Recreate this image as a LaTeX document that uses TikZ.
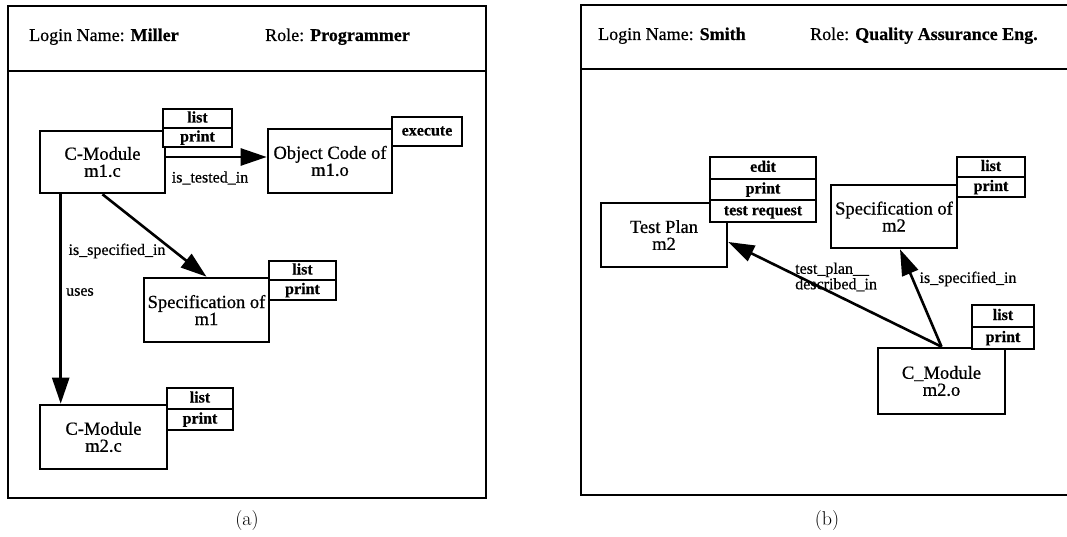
\documentclass[tikz,border=0pt]{standalone}
\usepackage{fontspec}
\newfontfamily\tms[FakeBold=0.6]{Liberation Serif}
\usetikzlibrary{arrows.meta,calc}
\begin{document}
\begin{tikzpicture}[x=1pt,y=-1pt,
  frame/.style={line width=2.6pt},
  obj/.style={draw,line width=2.6pt,inner sep=0pt,align=center,font=\tms\fontsize{18.5}{17}\selectfont},
  opbox/.style={draw,fill=white,line width=2.2pt,inner sep=0pt,outer sep=0pt,text height=11pt,text depth=3pt,font=\tms\bfseries\fontsize{16}{16}\selectfont},
  rel/.style={line width=2.6pt,-{Triangle[length=26pt,width=17pt]}},
  lbl/.style={inner sep=0pt,font=\tms\fontsize{16}{14}\selectfont,align=left},
  hdr/.style={inner sep=0pt,anchor=base west,font=\tms\fontsize{18}{20}\selectfont},
  captxt/.style={inner sep=0pt,font=\fontsize{20}{24}\selectfont}]
\useasboundingbox (0,0) rectangle (1067,537);

% ---------- panel (a) ----------
\draw[frame] (8,6) rectangle (486,498);
\draw[frame] (8,71) -- (486,71);
\node[hdr] (ha1) at (29,41) {Login Name: \textbf{Miller}};
\node[hdr] (ha2) at (265,41) {Role: \textbf{Programmer}};

\node[obj,minimum width=125pt,minimum height=62pt] (m1c) at (102.5,162) {C-Module\\m1.c};
\node[obj,minimum width=124pt,minimum height=64pt] (obj) at (330,161) {Object Code of\\m1.o};
\node[obj,minimum width=125pt,minimum height=64pt] (spec1) at (206.5,310) {Specification of\\m1};
\node[obj,minimum width=127pt,minimum height=64pt] (m2c) at (103.5,437) {C-Module\\m2.c};

\node[opbox,minimum width=69pt,minimum height=19pt] (m1cl) at (197.5,118.5) {list};
\node[opbox,minimum width=69pt,minimum height=19pt,anchor=north] (m1cp) at (m1cl.south) {print};
\node[opbox,minimum width=70pt,minimum height=29pt] (objx) at (427,131.5) {execute};
\node[opbox,minimum width=67pt,minimum height=19.5pt] (s1l) at (302.5,270.5) {list};
\node[opbox,minimum width=67pt,minimum height=19.5pt,anchor=north] (s1p) at (s1l.south) {print};
\node[opbox,minimum width=66pt,minimum height=21pt] (m2cl) at (200,398.5) {list};
\node[opbox,minimum width=66pt,minimum height=21pt,anchor=north] (m2cp) at (m2cl.south) {print};

\draw[rel] ([yshift=5pt]m1c.east) -- ([yshift=5pt]m1c.east -| obj.west);
\node[lbl] (l1) at (210,178) {is\_tested\_in};
\draw[rel] (m1c.south) -- (spec1.north);
\node[lbl] (l2) at (117,251) {is\_specified\_in};
\draw[rel] ([xshift=22pt]m1c.south west) -- ([xshift=22pt]m1c.south west |- m2c.north);
\node[lbl,anchor=west] (l3) at (66,292) {uses};

\node[captxt] (capa) at (247,521) {(a)};

% ---------- panel (b) ----------
\draw[frame] (1067,5) -- (581,5) -- (581,495) -- (1067,495);
\draw[frame] (581,69) -- (1067,69);
\node[hdr] (hb1) at (598,40) {Login Name: \textbf{Smith}};
\node[hdr] (hb2) at (810,40) {Role: \textbf{Quality Assurance Eng.}};

\node[obj,minimum width=126pt,minimum height=64pt] (tp) at (664,235) {Test Plan\\m2};
\node[obj,minimum width=126pt,minimum height=63pt] (spec2) at (894,216.5) {Specification of\\m2};
\node[obj,minimum width=127pt,minimum height=66pt] (cm) at (941.5,381) {C\_Module\\m2.o};

\node[opbox,minimum width=106pt,minimum height=21.7pt] (tpe) at (763,167.8) {edit};
\node[opbox,minimum width=106pt,minimum height=21.7pt,anchor=north] (tpp) at (tpe.south) {print};
\node[opbox,minimum width=106pt,minimum height=21.7pt,anchor=north] (tpt) at (tpp.south) {test request};
\node[opbox,minimum width=68pt,minimum height=20pt] (s2l) at (991,167) {list};
\node[opbox,minimum width=68pt,minimum height=20pt,anchor=north] (s2p) at (s2l.south) {print};
\node[opbox,minimum width=62pt,minimum height=22pt] (cml) at (1003,316) {list};
\node[opbox,minimum width=62pt,minimum height=22pt,anchor=north] (cmp) at (cml.south) {print};

\node[lbl,anchor=west] (l4) at (795,277) {test\_plan\_\_\\described\_in};
\node[lbl] (l5) at (968,279) {is\_specified\_in};
\draw[rel] (cm.north) -- ([yshift=-7pt]tp.east);
\draw[rel] (cm.north) -- ([xshift=6pt]spec2.south);

\node[captxt] (capb) at (827,521) {(b)};
\end{tikzpicture}
\end{document}
